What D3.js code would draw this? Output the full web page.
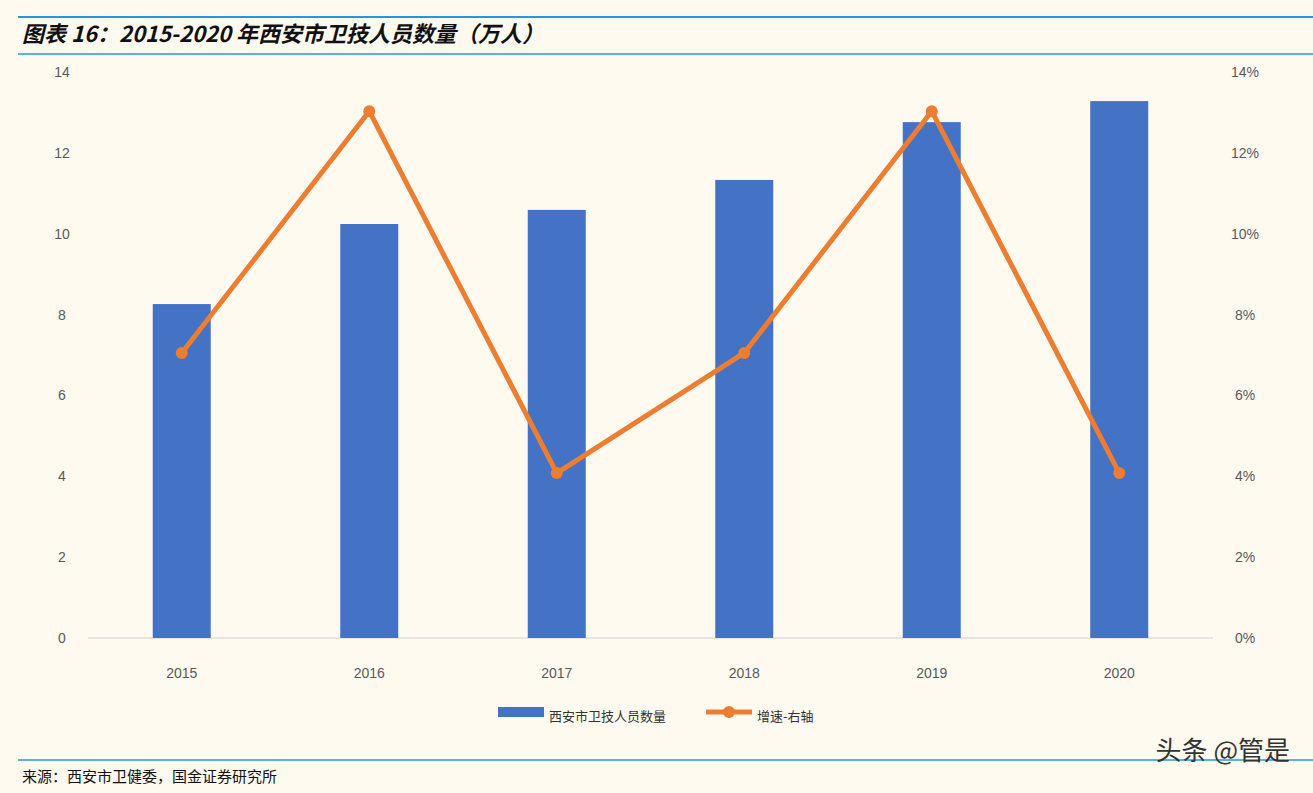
<!DOCTYPE html>
<html><head><meta charset="utf-8">
<script src="https://cdn.jsdelivr.net/npm/d3@7"></script>
<style>
body{margin:0;background:#fffaf0;}
svg{display:block;font-family:"Liberation Sans",Arial,sans-serif;}
</style></head><body>
<div class="chart"></div>
<script>
var years = ['2015','2016','2017','2018','2019','2020']
var staff = [8.26, 10.24, 10.59, 11.33, 12.76, 13.28]
var growth = [7.05, 13.03, 4.08, 7.05, 13.03, 4.08]
var leftTicks = [0, 2, 4, 6, 8, 10, 12, 14]
var rightTicks = [0, 2, 4, 6, 8, 10, 12, 14]

var W = 1313, H = 793
var svg = d3.select('.chart').append('svg').attr('width', W).attr('height', H)
svg.append('rect').attr('width', W).attr('height', H).attr('fill', '#fffaf0')

// header / footer rules
svg.append('line').attr('x1', 18).attr('x2', W).attr('y1', 17).attr('y2', 17).attr('stroke', '#1e9be0').attr('stroke-width', 2)
svg.append('line').attr('x1', 18).attr('x2', W).attr('y1', 54).attr('y2', 54).attr('stroke', '#1e9be0').attr('stroke-width', 1.5)
svg.append('line').attr('x1', 18).attr('x2', W).attr('y1', 760).attr('y2', 760).attr('stroke', '#1e9be0').attr('stroke-width', 1.5)
svg.append('text').attr('x', 22).attr('y', 42)
  .attr('font-size', 22).attr('font-weight', 'bold').attr('font-style', 'italic')
  .attr('font-family', '"Noto Sans CJK SC", sans-serif').attr('fill', '#111')
  .text('图表 16：2015-2020 年西安市卫技人员数量（万人）')
svg.append('text').attr('x', 22).attr('y', 782).attr('font-size', 15)
  .attr('font-family', '"Noto Sans CJK SC", sans-serif').attr('fill', '#111')
  .text('来源：西安市卫健委，国金证券研究所')
svg.append('text').attr('x', 1290).attr('y', 760).attr('text-anchor', 'end').attr('font-size', 26)
  .attr('font-family', '"Noto Sans CJK SC", sans-serif').attr('fill', '#333')
  .text('头条 @管是')

var x = d3.scaleBand().domain(years).range([88, 1213])
var y = d3.scaleLinear().domain([0, 14]).range([638, 72])
var y2 = d3.scaleLinear().domain([0, 14]).range([638, 72])

svg.append('line').attr('x1', 88).attr('x2', 1213).attr('y1', y(0)).attr('y2', y(0)).attr('stroke', '#d0d0d0')

svg.append('g').selectAll('text').data(leftTicks).join('text')
  .attr('x', 62).attr('y', d => y(d) + 5).attr('text-anchor', 'middle')
  .attr('font-size', 14).attr('fill', '#595959').text(d => d)
svg.append('g').selectAll('text').data(rightTicks).join('text')
  .attr('x', 1245).attr('y', d => y2(d) + 5).attr('text-anchor', 'middle')
  .attr('font-size', 14).attr('fill', '#595959').text(d => d + '%')
svg.append('g').selectAll('text').data(years).join('text')
  .attr('x', d => x(d) + x.bandwidth()/2).attr('y', 678).attr('text-anchor', 'middle')
  .attr('font-size', 14).attr('fill', '#595959').text(d => d)

var bw = 58
svg.append('g').selectAll('rect').data(staff).join('rect')
  .attr('x', (d, i) => x(years[i]) + x.bandwidth()/2 - bw/2)
  .attr('y', d => y(d)).attr('width', bw).attr('height', d => y(0) - y(d))
  .attr('fill', '#4472c4')

var line = d3.line().x((d, i) => x(years[i]) + x.bandwidth()/2).y(d => y2(d))
svg.append('path').datum(growth).attr('d', line).attr('fill', 'none')
  .attr('stroke', '#ed7d31').attr('stroke-width', 5).attr('stroke-linejoin', 'round')
svg.append('g').selectAll('circle').data(growth).join('circle')
  .attr('cx', (d, i) => x(years[i]) + x.bandwidth()/2).attr('cy', d => y2(d))
  .attr('r', 6).attr('fill', '#ed7d31')

// legend
var lg = svg.append('g').attr('font-family', '"Noto Sans CJK SC", sans-serif')
lg.append('rect').attr('x', 498).attr('y', 707).attr('width', 46).attr('height', 10).attr('fill', '#4472c4')
lg.append('text').attr('x', 549).attr('y', 721).attr('font-size', 13).attr('fill', '#333').text('西安市卫技人员数量')
lg.append('line').attr('x1', 706).attr('x2', 752).attr('y1', 712).attr('y2', 712).attr('stroke', '#ed7d31').attr('stroke-width', 5)
lg.append('circle').attr('cx', 729).attr('cy', 712).attr('r', 6).attr('fill', '#ed7d31')
lg.append('text').attr('x', 757).attr('y', 721).attr('font-size', 13).attr('fill', '#333').text('增速-右轴')
</script>
</body></html>
